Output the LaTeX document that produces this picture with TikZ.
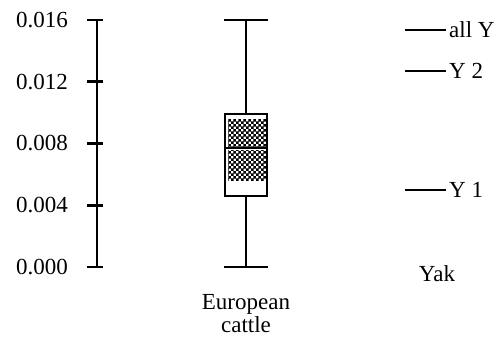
\documentclass[tikz,border=0pt]{standalone}
\usepackage{fontspec}
\setmainfont{Liberation Serif}
\usetikzlibrary{patterns}

\pgfdeclarepatternformonly{finecheck}{\pgfpointorigin}{\pgfpoint{5.4pt}{5.4pt}}{\pgfpoint{5.4pt}{5.4pt}}{
	\pgfpathrectangle{\pgfpointorigin}{\pgfpoint{2.75pt}{2.75pt}}
	\pgfpathrectangle{\pgfpoint{2.7pt}{2.7pt}}{\pgfpoint{2.75pt}{2.75pt}}
	\pgfusepath{fill}
}

\tikzset{
	lbl/.style={inner sep=0pt, font=\fontsize{23}{23}\selectfont},
	ax/.style={line width=2.6pt},
	bx/.style={line width=2.8pt},
}

\begin{document}
\begin{tikzpicture}[x=1pt, y=-1pt]
	\useasboundingbox (0,0) rectangle (498,348);

	% axis with ticks
	\draw [ax] (97,20) to (97,267);
	\foreach \yy/\val in {20/0.016, 81.75/0.012, 143.5/0.008, 205.25/0.004, 267/0.000} {
		\draw [ax] (87,\yy) to (103,\yy);
		\node [lbl, anchor=east] (tick\val) at (68,\yy) {\val};
	}

	% whiskers
	\coordinate (wtop) at (246,20);
	\coordinate (wbot) at (246,267);
	\draw [bx] (wtop) to (wbot);
	\draw [bx] (224,20) to (268,20);
	\draw [bx] (224,267) to (268,267);

	% box
	\fill [white] (225,114) rectangle (267,196);
	\fill [pattern=finecheck] (228,119) rectangle (266,146);
	\fill [pattern=finecheck] (228,150) rectangle (266,180);
	\draw [bx] (225,114) rectangle (267,196);
	\draw [bx] (225,148) to (267,148);
	\node [lbl, align=center] (cattle) at (246,314) {European\\cattle};

	% yak values
	\foreach \yy/\txt/\nm in {30/all Y/yall, 71/Y 2/ytwo, 190/Y 1/yone} {
		\coordinate (\nm) at (405,\yy);
		\node [lbl, anchor=west] (\nm lbl) at (449,\yy) {\txt};
		\draw [ax] (\nm) to ([xshift=-3pt]\nm lbl.west);
	}
	\node [lbl] (yak) at (437,274) {Yak};
\end{tikzpicture}
\end{document}
